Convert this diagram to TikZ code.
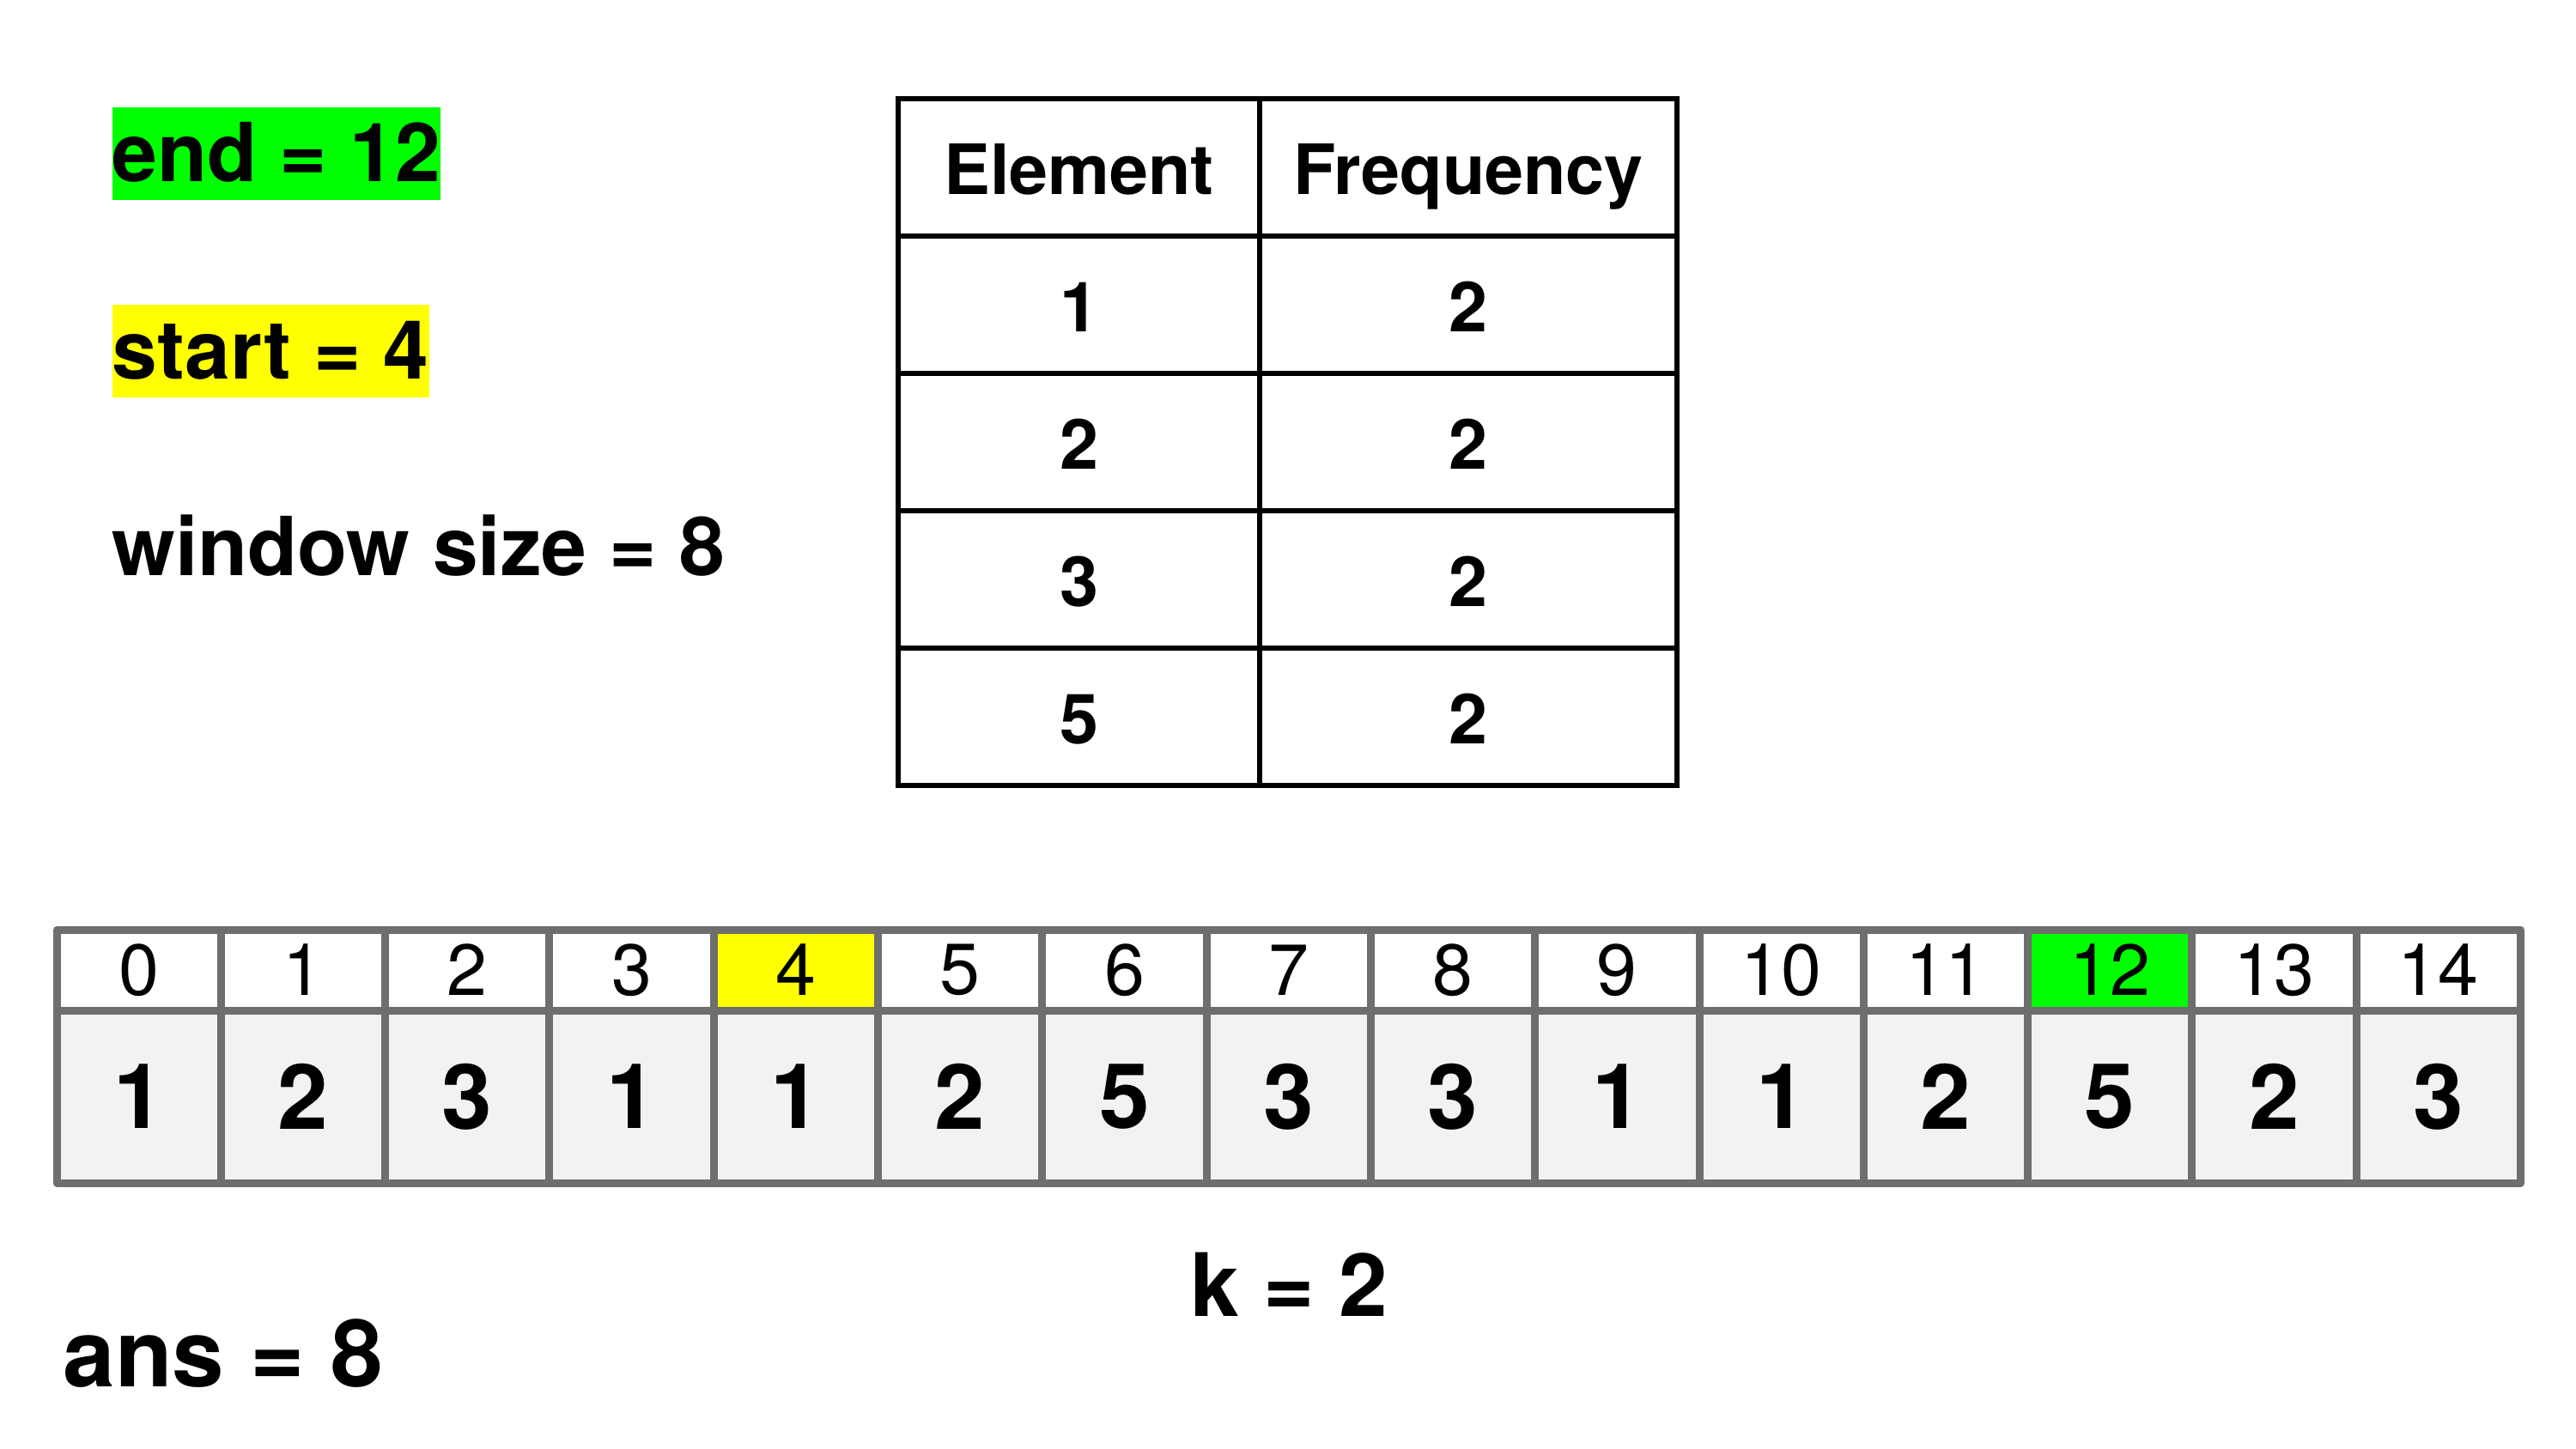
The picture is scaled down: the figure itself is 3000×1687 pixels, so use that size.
\documentclass[tikz,border=0pt]{standalone}
\usepackage{fontspec}
\setmainfont{TeX Gyre Heros}
\usepackage{tikz}
\usetikzlibrary{positioning}
\definecolor{hlgreen}{RGB}{0,255,0}
\definecolor{hlyellow}{RGB}{255,255,0}
\definecolor{arrgray}{RGB}{110,110,110}
\definecolor{cellgray}{RGB}{242,242,242}
\tikzstyle{varlbl} = [anchor=base west, inner sep=0pt, font=\fontsize{27pt}{32pt}\selectfont\bfseries]
\tikzstyle{hilite} = [varlbl, text height=8.6mm, text depth=2.2mm]
\tikzstyle{tcell} = [rectangle, draw=black, line width=0.6mm, outer sep=0pt, minimum height=16mm, text height=23pt, text depth=4.6pt, text centered, font=\fontsize{23pt}{28pt}\selectfont\bfseries]
\tikzstyle{ecol} = [tcell, minimum width=42.1mm]
\tikzstyle{fcol} = [tcell, minimum width=48.6mm]
\tikzstyle{idx} = [rectangle, draw=arrgray, line width=0.9mm, line join=round, outer sep=0pt, inner sep=0pt, minimum width=19.13mm, minimum height=9.4mm, font=\fontsize{24pt}{28pt}\selectfont]
\tikzstyle{val} = [idx, fill=cellgray, minimum height=20.1mm, font=\fontsize{30pt}{36pt}\selectfont\bfseries]

\begin{document}
\begin{tikzpicture}[x=0.1mm, y=-0.1mm]
	\path[use as bounding box, fill=white] (0,0) rectangle (3000,1687);

	% Variables
	\node (endlbl) [hilite, fill=hlgreen] at (130,211) {end = 12};
	\node (startlbl) [hilite, fill=hlyellow] at (130,441) {start = 4};
	\node (winlbl) [varlbl] at (130,670) {window size = 8};

	% Frequency table
	\node (e0) [ecol] at (1256.5,194.5) {Element};
	\node (f0) [fcol, right=0pt of e0] {Frequency};
	\foreach \e/\f [count=\r, evaluate=\r as \p using int(\r-1)] in {1/2, 2/2, 3/2, 5/2} {
		\node (e\r) [ecol, below=0pt of e\p] {\e};
		\node (f\r) [fcol, right=0pt of e\r] {\f};
	}

	% Array with indices
	\foreach \v/\c [count=\i from 0] in {1/white, 2/white, 3/white, 1/white, 1/hlyellow, 2/white, 5/white, 3/white, 3/white, 1/white, 1/white, 2/white, 5/hlgreen, 2/white, 3/white} {
		\node (i\i) [idx, fill=\c] at ({161.65+191.3*\i},1130) {\i};
		\node (v\i) [val, below=0pt of i\i] {\v};
	}

	\node (klbl) [anchor=base, inner sep=0pt, font=\fontsize{29pt}{34pt}\selectfont\bfseries] at (1501,1533) {k = 2};
	\node (anslbl) [varlbl, font=\fontsize{31pt}{36pt}\selectfont\bfseries] at (73,1615) {ans = 8};

\end{tikzpicture}
\end{document}
